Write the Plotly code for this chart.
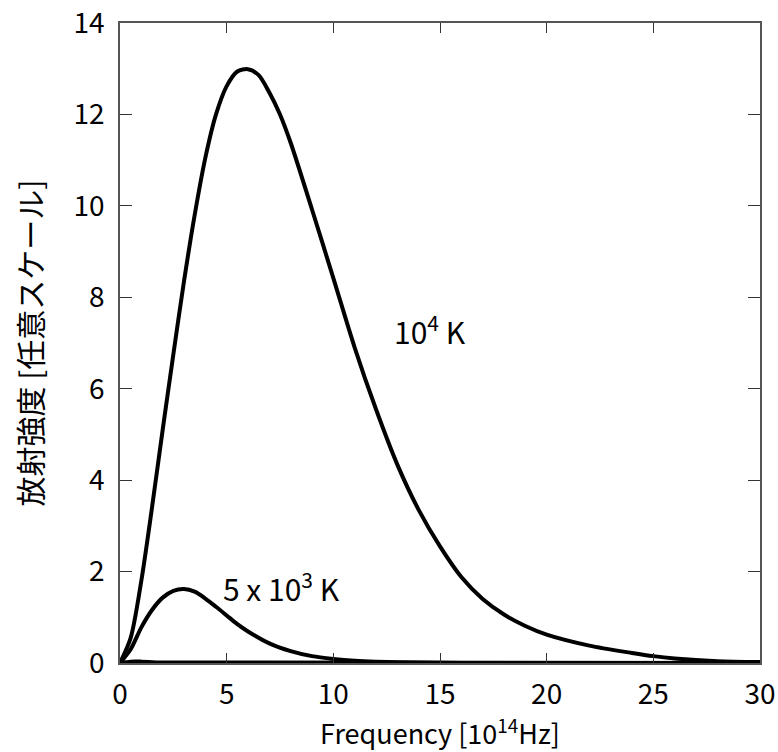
import plotly.graph_objects as go

# Radiated intensity vs. frequency for two black-body temperatures
freq_1e4 = [0, 0.5, 1.0, 1.5, 2.0, 2.5, 3.0, 3.5, 4.0, 4.5, 5.0, 5.5, 6.0, 6.5,
            7.0, 7.5, 8.0, 9.0, 10.0, 11.0, 12.0, 13.0, 14.0, 15.0, 16.0, 17.0,
            18.0, 19.0, 20.0, 22.0, 24.0, 25.0, 26.0, 28.0, 30.0]
inten_1e4 = [0, 0.55, 1.8, 3.4, 5.1, 6.75, 8.35, 9.8, 11.05, 12.0, 12.62, 12.94, 12.99, 12.86,
             12.48, 12.0, 11.38, 9.92, 8.42, 6.9, 5.55, 4.34, 3.35, 2.55, 1.88, 1.4,
             1.06, 0.81, 0.62, 0.38, 0.22, 0.15, 0.1, 0.04, 0.02]

freq_5e3 = [0, 0.5, 1.0, 1.5, 2.0, 2.5, 3.0, 3.5, 4.0, 4.5, 5.0, 5.5, 6.0, 7.0,
            8.0, 9.0, 10.0, 11.0, 12.0, 14.0, 16.0, 30.0]
inten_5e3 = [0, 0.3, 0.78, 1.16, 1.43, 1.58, 1.62, 1.56, 1.41, 1.23, 1.04, 0.85, 0.69, 0.43,
             0.26, 0.15, 0.09, 0.05, 0.03, 0.01, 0, 0]

# low-temperature curve that stays on the baseline
freq_low = [0, 0.5, 1.0, 2.0, 30.0]
inten_low = [0, 0.03, 0.03, 0.01, 0]

x_ticks = [0, 5, 10, 15, 20, 25, 30]
y_ticks = [0, 2, 4, 6, 8, 10, 12, 14]

FONT = "Noto Sans CJK JP"

fig = go.Figure()
for xs, ys in [(freq_low, inten_low), (freq_5e3, inten_5e3), (freq_1e4, inten_1e4)]:
    fig.add_trace(go.Scatter(
        x=xs, y=ys, mode="lines",
        line=dict(color="black", width=4, shape="spline", smoothing=0.8),
        showlegend=False, hoverinfo="skip", cliponaxis=False,
    ))

fig.add_annotation(x=14.55, y=7.29, text="10<sup>4</sup> K", showarrow=False,
                   font=dict(family=FONT, size=30, color="black"))
fig.add_annotation(x=7.59, y=1.67, text="5 x 10<sup>3</sup> K", showarrow=False,
                   font=dict(family=FONT, size=30, color="black"))

axis_common = dict(
    showgrid=False, zeroline=False, showline=True, mirror="ticks",
    linecolor="#555555", linewidth=1.5, ticks="inside", tickcolor="#333333",
    tickwidth=1, tickfont=dict(family=FONT, size=28, color="black"),
    automargin=False,
)

fig.update_xaxes(range=[0, 30], tickvals=x_ticks, ticklen=10,
                 ticklabelstandoff=6,
                 title=dict(text="Frequency [10<sup>14</sup>Hz]",
                            font=dict(family=FONT, size=27, color="black"),
                            standoff=8),
                 **axis_common)
fig.update_yaxes(range=[0, 14], tickvals=y_ticks, ticklen=12,
                 ticklabelstandoff=8,
                 title=dict(text="放射強度 [任意スケール]",
                            font=dict(family=FONT, size=30, color="black"),
                            standoff=22),
                 **axis_common)

fig.update_layout(
    width=778, height=752,
    margin=dict(l=120, r=18, t=23, b=89),
    paper_bgcolor="white", plot_bgcolor="white",
    font=dict(family=FONT, color="black"),
)

fig.write_html("out.html")
